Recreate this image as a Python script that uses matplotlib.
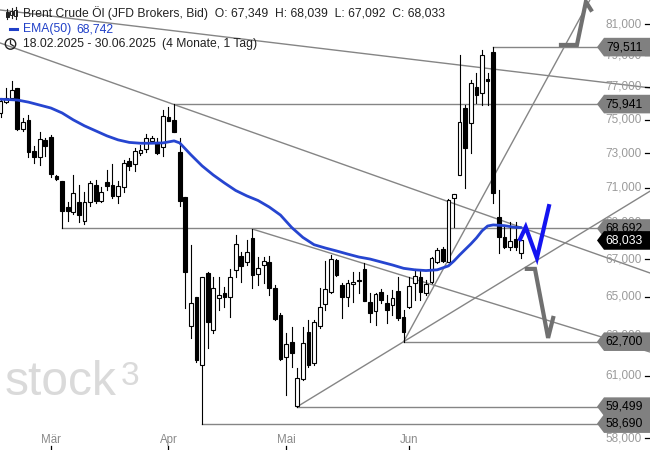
import numpy as np
import pandas as pd
import matplotlib
matplotlib.use("Agg")
import matplotlib.pyplot as plt
from matplotlib.patches import Rectangle, Polygon, Circle
from matplotlib.transforms import IdentityTransform

# trading days, Good Friday (18.04.) has no candle
days = pd.bdate_range("2025-02-18", "2025-06-30")
days = days[days != pd.Timestamp("2025-04-18")]

opens = [75.40, 76.05, 76.29, 76.92, 74.42, 74.98, 73.13, 72.76, 73.78, 73.98,
         71.66, 71.37, 69.89, 69.62, 70.19, 69.10, 70.16, 71.14, 70.23, 71.33,
         71.14, 70.54, 71.05, 72.54, 72.36, 73.00, 73.25, 73.74, 73.68, 73.33,
         75.18, 74.98, 73.05, 70.48, 63.50, 65.02, 61.54, 66.26, 63.30, 64.94,
         65.20, 64.99, 66.44, 67.19, 66.88, 68.15, 66.21, 66.70, 66.88, 65.46,
         64.06, 61.94, 62.70, 59.53, 60.83, 63.18, 61.62, 63.50, 64.62, 65.28,
         66.97, 65.64, 65.02, 65.69, 65.90, 66.47, 64.76, 64.28, 65.28, 64.71,
         64.59, 65.33, 63.95, 64.46, 65.75, 66.08, 65.23, 65.81, 66.88, 67.55,
         66.88, 70.39, 71.72, 75.68, 74.82, 77.01, 76.60, 77.47, 79.22, 69.35,
         68.24, 67.69, 68.10, 67.349]
highs = [76.25, 76.95, 77.39, 76.93, 75.08, 75.28, 73.44, 74.24, 73.88, 74.08,
         71.72, 71.37, 70.16, 71.72, 71.14, 70.73, 71.37, 71.43, 71.05, 72.01,
         72.35, 71.37, 72.60, 72.70, 73.31, 73.49, 74.12, 73.99, 73.92, 75.58,
         75.78, 75.941, 73.92, 70.48, 67.79, 65.02, 66.08, 66.35, 66.08, 66.08,
         65.54, 66.49, 68.33, 67.42, 68.06, 68.66, 67.15, 67.15, 67.19, 65.64,
         64.15, 63.13, 63.47, 61.37, 63.47, 63.81, 63.81, 65.46, 66.92, 67.24,
         67.01, 65.72, 65.90, 66.30, 66.30, 66.79, 65.20, 65.23, 65.41, 65.11,
         65.37, 66.08, 64.32, 66.08, 66.47, 66.44, 65.90, 67.15, 67.60, 67.69,
         70.33, 70.63, 79.01, 75.88, 77.43, 77.85, 79.33, 77.85, 79.511, 70.86,
         68.79, 69.07, 69.07, 68.039]
lows = [75.16, 76.01, 76.25, 74.38, 74.32, 72.74, 72.44, 72.31, 72.80, 71.62,
        71.43, 68.692, 69.10, 69.48, 69.07, 68.92, 69.97, 70.10, 70.19, 70.86,
        70.42, 70.10, 70.73, 72.01, 71.95, 72.90, 73.09, 73.69, 72.94, 72.84,
        74.92, 74.24, 69.97, 64.44, 62.88, 61.70, 58.690, 62.37, 63.13, 64.32,
        64.49, 63.98, 66.08, 65.81, 66.70, 65.46, 65.64, 65.72, 65.11, 63.81,
        61.78, 60.07, 61.42, 59.499, 60.80, 61.45, 61.54, 63.39, 64.32, 65.20,
        66.12, 63.90, 64.53, 64.76, 65.23, 64.81, 63.72, 63.55, 64.68, 63.64,
        64.06, 63.81, 62.700, 64.41, 64.85, 64.85, 65.11, 65.72, 66.79, 66.88,
        66.88, 68.79, 71.72, 70.95, 73.00, 75.99, 75.88, 75.88, 70.10, 67.33,
        67.60, 67.51, 67.51, 67.092]
closes = [76.13, 76.33, 76.81, 74.42, 74.88, 73.09, 72.74, 73.82, 73.44, 71.76,
          71.47, 69.68, 69.68, 70.67, 69.44, 70.16, 71.24, 70.23, 70.76, 71.10,
          70.54, 71.09, 72.41, 72.26, 73.13, 73.19, 73.92, 73.92, 73.00, 75.22,
          74.92, 74.24, 70.23, 66.35, 64.68, 61.78, 66.08, 63.72, 65.46, 65.11,
          65.02, 66.08, 67.82, 66.62, 67.42, 66.17, 66.56, 66.93, 65.46, 63.85,
          61.81, 62.58, 62.14, 60.88, 62.62, 61.54, 63.72, 64.46, 65.41, 67.01,
          66.17, 64.99, 65.72, 65.81, 65.83, 64.81, 64.18, 65.16, 64.85, 64.32,
          64.94, 63.90, 63.21, 65.58, 66.12, 65.28, 65.69, 67.06, 67.51, 66.93,
          70.29, 70.63, 74.88, 73.29, 77.22, 76.50, 79.01, 77.39, 70.67, 68.21,
          67.69, 68.01, 67.66, 68.033]

# EMA(50) (candle index, value)
ema_idx = [0, 3, 5, 7, 9, 11, 13, 15, 17, 19, 21, 23, 25, 27, 29, 31, 32, 33, 34, 36,
           38, 40, 42, 44, 46, 48, 50, 52, 54, 56, 58, 60, 62, 64, 66, 68, 70, 72, 74, 76,
           78, 80, 81, 82, 83, 84, 85, 86, 87, 88, 90, 92, 93]
ema_val = [76.24, 76.19, 76.06, 75.88, 75.70, 75.40, 74.98, 74.62, 74.32, 74.02,
           73.78, 73.63, 73.58, 73.58, 73.60, 73.72, 73.60, 73.25, 72.90, 72.25,
           71.72, 71.26, 70.83, 70.52, 70.26, 69.89, 69.44, 68.75, 68.20, 67.80,
           67.62, 67.46, 67.29, 67.13, 67.02, 66.86, 66.70, 66.52, 66.44, 66.40,
           66.44, 66.65, 66.92, 67.24, 67.54, 67.84, 68.17, 68.56, 68.83, 68.89,
           68.85, 68.75, 68.742]

# horizontal marks: level and the candle they start from
levels = [79.511, 75.941, 68.692, 62.700, 59.499, 58.690]
level_start = [88, 31, 11, 72, 53, 36]
last_close = 68.033

# trend lines (index, price) pairs
trend_lines = [
    [(-0.1, 79.78), (116.0, 66.27)],
    [(-0.1, 81.93), (116.0, 76.94)],
    [(53, 59.499), (116.0, 70.79)],
    [(72, 62.700), (107.3, 84.0)],
    [(45, 68.66), (116.0, 62.18)],
]

# hand drawn arrows
blue_arrow = [(92.8, 68.11), (93.8, 68.77), (95.8, 67.08), (97.95, 69.94)]
grey_down = [(94.0, 66.49), (95.45, 66.49), (97.8, 62.89), (98.7, 63.91)]
grey_up = [(100.1, 79.65), (102.95, 79.65), (104.55, 82.47), (105.45, 81.94)]

price_ticks = [58, 61, 63, 65, 67, 69, 71, 73, 75, 77, 79, 81]
month_names = {3: "Mär", 4: "Apr", 5: "Mai", 6: "Jun"}

W, H = 650, 450
fig = plt.figure(figsize=(6.5, 4.5), dpi=100)
ax = fig.add_axes([0, 0, 1, 1])
ax.set_yscale("log")
ax.set_xlim(-0.09, 116.0)
ax.set_ylim(57.455, 82.59)
ax.set_axis_off()

def fx(px):
    return px / W

def fy(py):
    return 1 - py / H

grey = "#858585"
x = np.arange(len(opens))

# lines
for lv, st in zip(levels, level_start):
    ax.plot([st, 116.0], [lv, lv], color=grey, lw=1.0, zorder=1)
for seg in trend_lines:
    xs, ys = zip(*seg)
    ax.plot(xs, ys, color=grey, lw=1.0, zorder=1)

# candles
bw = 0.66
for i in x:
    o, h, l, c = opens[i], highs[i], lows[i], closes[i]
    ax.plot([i, i], [l, h], color="black", lw=0.8, zorder=2)
    up = c >= o
    ax.add_patch(Rectangle((i - bw / 2, min(o, c)), bw, max(abs(c - o), 0.03),
                           facecolor="white" if up else "black",
                           edgecolor="black", lw=0.8, zorder=3))

ax.plot(ema_idx, ema_val, color="#2645d0", lw=2.0, zorder=4, solid_capstyle="round")

for pts, col in [(blue_arrow, "#1414f0"), (grey_down, "#707070"), (grey_up, "#707070")]:
    xs, ys = zip(*pts)
    ax.plot(xs, ys, color=col, lw=3.0, zorder=5, solid_joinstyle="miter")

# watermark
fig.text(fx(5), fy(395), "stock", fontsize=34.5, color="#dadada",
         family="Liberation Sans", va="baseline", ha="left", zorder=0)
fig.text(fx(121), fy(385), "3", fontsize=24, color="#dadada",
         family="Liberation Sans", va="baseline", ha="left", zorder=0)

# right axis
for t in price_ticks:
    yd = ax.transData.transform((0, t))[1]
    ypx = H - yd
    fig.text(fx(642), fy(ypx), f"{t},000", fontsize=8.5, color="#9a9a9a",
             family="Liberation Sans", ha="right", va="center", zorder=6)
    ax.plot([fx(645), 1.0], [t, t], color="black", lw=0.9,
            transform=ax.get_yaxis_transform(), zorder=6)

# price boxes
for lv, fc, tc in [(v, "#808080", "black") for v in levels] + [(last_close, "black", "white")]:
    yd = ax.transData.transform((0, lv))[1]
    poly = [(597, yd), (604, yd + 9.3), (W, yd + 9.3), (W, yd - 9.3), (604, yd - 9.3)]
    fig.add_artist(Polygon(poly, closed=True, facecolor=fc, edgecolor="none",
                           transform=IdentityTransform(), zorder=7))
    fig.text(fx(624.5), yd / H, f"{lv:.3f}".replace(".", ","), fontsize=8.7,
             color=tc, family="Liberation Sans", ha="center", va="center", zorder=8)

# months
for m, name in month_names.items():
    i = int(np.argmax(days.month == m))
    fig.text(i / 116.09 + 0.09 / 116.09, fy(440), name, fontsize=8.3, color="#8a8a8a",
             family="Liberation Sans", ha="center", va="center")
    ax.plot([i, i], [fy(446), 1 - 1.0], color="black", lw=0.9,
            transform=ax.get_xaxis_transform())

# header
hdr = dict(family="Liberation Sans", fontsize=8.7, va="center", ha="left")
fig.text(fx(23), fy(13), "Brent Crude Öl (JFD Brokers, Bid)  O: 67,349  H: 68,039  L: 67,092  C: 68,033",
         color="#222222", **hdr)
fig.text(fx(23), fy(29), "EMA(50)", color="#2040c8", **hdr)
fig.text(fx(76.5), fy(29), "68,742", color="#2040c8", **hdr)
fig.text(fx(23), fy(44), "18.02.2025 - 30.06.2025", color="#222222", **hdr)
fig.text(fx(162.5), fy(44), "(4 Monate, 1 Tag)", color="#222222", **hdr)

# header icons
fig.add_artist(plt.Line2D([fx(10), fx(17)], [fy(29), fy(29)], color="#2040c8", lw=2.2))
fig.add_artist(Circle((fx(10.5) * W, fy(44) * H), 5.2, fill=False, edgecolor="#222222",
                      lw=1.0, transform=IdentityTransform()))
fig.add_artist(plt.Line2D([fx(10.5), fx(10.5), fx(13.5)], [fy(40.5), fy(44), fy(46)],
                          color="#222222", lw=0.9))
for cx, top, bot, b0, b1, filled in [(7, 9, 19, 12, 17, True), (11.5, 8, 18, 11, 15, False),
                                      (16, 7, 19, 10, 16, False)]:
    fig.add_artist(plt.Line2D([fx(cx), fx(cx)], [fy(top), fy(bot)], color="#222222", lw=0.8))
    fig.add_artist(Rectangle((fx(cx - 1.5), fy(b1)), 3 / W, (b1 - b0) / H,
                             facecolor="#222222" if filled else "white",
                             edgecolor="#222222", lw=0.7, transform=fig.transFigure))

fig.savefig("out.png", dpi=100)
